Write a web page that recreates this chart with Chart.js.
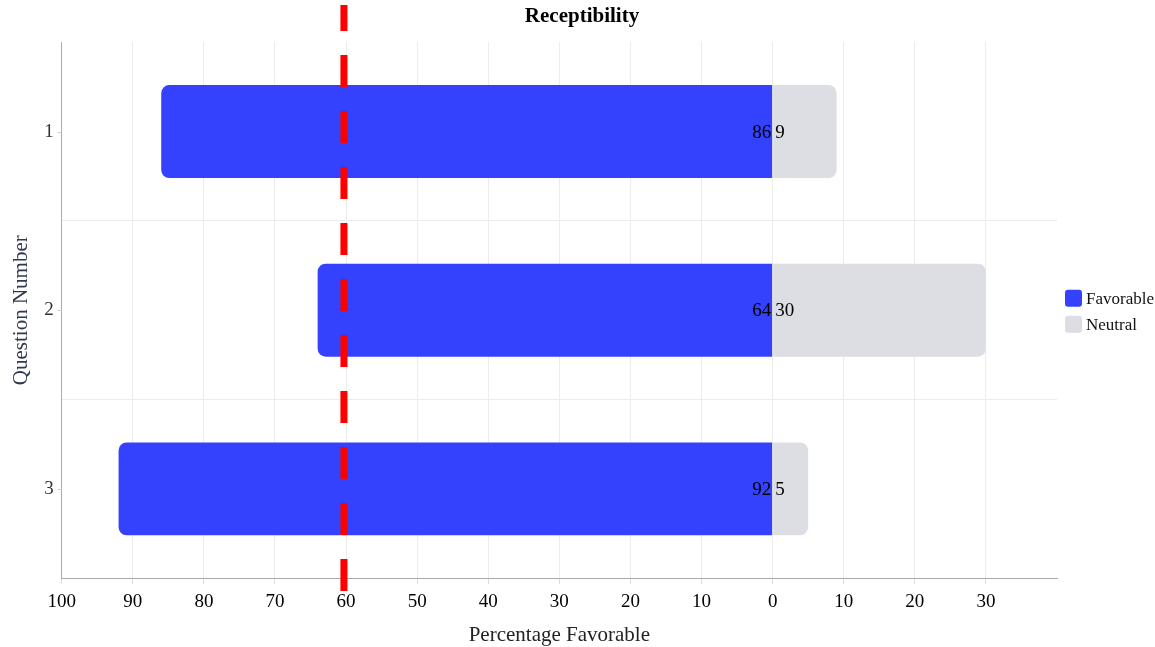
<!DOCTYPE html>
<html>
<head>
<meta charset="utf-8">
<script src="https://cdn.jsdelivr.net/npm/chart.js@4"></script>
<style>
  html, body { margin: 0; padding: 0; background: #fff; }
  #wrap { width: 1155px; height: 647px; }
</style>
</head>
<body>
<div id="wrap"><canvas id="c" width="1155" height="647"></canvas></div>
<script>
// Survey results per question
const questions = ['1', '2', '3'];
const favorable = [86, 64, 92];
const neutral = [9, 30, 5];
const threshold = 60;
const xTicks = [100, 90, 80, 70, 60, 50, 40, 30, 20, 10, 0, 10, 20, 30];

const SERIF = '"Liberation Serif", "Times New Roman", serif';
const LEGEND_WIDTH = 98;

// Value labels drawn next to the zero line
const valueLabels = {
  id: 'valueLabels',
  afterDatasetsDraw(chart) {
    const { ctx } = chart;
    ctx.save();
    ctx.font = '19px ' + SERIF;
    ctx.fillStyle = '#000';
    ctx.textBaseline = 'middle';
    chart.data.datasets.forEach((ds, di) => {
      const meta = chart.getDatasetMeta(di);
      meta.data.forEach((bar, i) => {
        const raw = ds.labelValues[i];
        if (di === 0) {
          ctx.textAlign = 'right';
          ctx.fillText(String(raw), bar.base - 1, bar.y + 1);
        } else {
          ctx.textAlign = 'left';
          ctx.fillText(String(raw), bar.base + 2, bar.y + 1);
        }
      });
    });
    ctx.restore();
  }
};

// Short tick marks beside each question label
const categoryTicks = {
  id: 'categoryTicks',
  afterDraw(chart) {
    const { ctx } = chart;
    const y = chart.scales.y;
    ctx.save();
    ctx.strokeStyle = '#cfcfcf';
    ctx.lineWidth = 1;
    y.ticks.forEach((t, i) => {
      const py = Math.round(y.getPixelForTick(i)) + 0.5;
      ctx.beginPath();
      ctx.moveTo(y.right - 4, py);
      ctx.lineTo(y.right, py);
      ctx.stroke();
    });
    ctx.restore();
  }
};

// Dashed reference line at the favorable threshold
const thresholdLine = {
  id: 'thresholdLine',
  afterDraw(chart) {
    const { ctx, chartArea } = chart;
    const x = chart.scales.x.getPixelForValue(-threshold - 0.3);
    ctx.save();
    ctx.strokeStyle = '#ff0000';
    ctx.lineWidth = 7;
    ctx.setLineDash([32, 24]);
    ctx.lineDashOffset = 6;
    ctx.beginPath();
    ctx.moveTo(x, 5);
    ctx.lineTo(x, chartArea.bottom + 13);
    ctx.stroke();
    ctx.restore();
  }
};

// Compact legend in its own layout box on the right side
const sideLegend = {
  id: 'sideLegend',
  beforeInit(chart) {
    const box = {
      position: 'right',
      weight: 1000,
      fullSize: false,
      options: {},
      top: 0, left: 0, right: 0, bottom: 0, width: 0, height: 0,
      isHorizontal() { return false; },
      update(maxWidth, maxHeight) {
        this.width = LEGEND_WIDTH;
        this.height = maxHeight;
      },
      draw() {}
    };
    Chart.layouts.addBox(chart, box);
  },
  afterDraw(chart) {
    const { ctx, chartArea } = chart;
    const x0 = chartArea.right + 8;
    const midY = (chartArea.top + chartArea.bottom) / 2 + 1;
    const rowH = 26;
    const n = chart.data.datasets.length;
    const startY = midY - (n - 1) * rowH / 2;
    ctx.save();
    ctx.font = '17px ' + SERIF;
    ctx.textBaseline = 'middle';
    ctx.textAlign = 'left';
    chart.data.datasets.forEach((ds, i) => {
      const cy = startY + i * rowH;
      ctx.fillStyle = ds.backgroundColor;
      ctx.beginPath();
      ctx.roundRect(x0, cy - 8.5, 17, 17, 3);
      ctx.fill();
      ctx.fillStyle = '#111';
      ctx.fillText(ds.label, x0 + 21, cy + 1);
    });
    ctx.restore();
  }
};

new Chart(document.getElementById('c'), {
  type: 'bar',
  data: {
    labels: questions,
    datasets: [
      {
        label: 'Favorable',
        data: favorable.map(v => -v),
        labelValues: favorable,
        backgroundColor: '#3442fe',
        borderRadius: 8,
        borderSkipped: 'start'
      },
      {
        label: 'Neutral',
        data: neutral,
        labelValues: neutral,
        backgroundColor: '#dddee3',
        borderRadius: 8,
        borderSkipped: 'start'
      }
    ]
  },
  options: {
    indexAxis: 'y',
    responsive: false,
    animation: false,
    layout: { padding: { top: 0, left: 9, right: 0, bottom: 1 } },
    datasets: { bar: { categoryPercentage: 1, barPercentage: 0.52 } },
    scales: {
      x: {
        stacked: true,
        min: -100,
        max: 40,
        afterBuildTicks(scale) {
          scale.ticks = xTicks.map((t, i) => ({ value: i <= 10 ? -t : t }));
        },
        ticks: {
          autoSkip: false,
          maxRotation: 0,
          color: '#000',
          padding: 6,
          font: { family: SERIF, size: 19 },
          callback: v => String(Math.abs(v))
        },
        grid: {
          color: ctx => (ctx.tick && ctx.tick.value === -100) ? 'rgba(0,0,0,0)' : '#ececec',
          tickLength: 6,
          tickColor: '#dcdcdc'
        },
        border: { color: '#aaaaaa', width: 1 },
        title: {
          display: true,
          text: 'Percentage Favorable',
          color: '#222',
          font: { family: SERIF, size: 21, lineHeight: 1.0 },
          padding: { top: 6, bottom: 0 }
        }
      },
      y: {
        stacked: true,
        ticks: {
          color: '#333',
          padding: 8,
          font: { family: SERIF, size: 19 }
        },
        grid: {
          offset: true,
          color: ctx => ctx.index === 0 ? 'rgba(0,0,0,0)' : '#ececec',
          drawTicks: false
        },
        border: { color: '#aaaaaa', width: 1 },
        title: {
          display: true,
          text: 'Question Number',
          color: '#2f3a4f',
          font: { family: SERIF, size: 21 },
          padding: { top: 0, bottom: 2 }
        }
      }
    },
    plugins: {
      title: {
        display: true,
        text: 'Receptibility',
        color: '#000',
        font: { family: SERIF, size: 21, weight: 'bold' },
        padding: { top: 4, bottom: 13 }
      },
      legend: { display: false },
      tooltip: { enabled: false }
    }
  },
  plugins: [valueLabels, categoryTicks, thresholdLine, sideLegend]
});
</script>
</body>
</html>
